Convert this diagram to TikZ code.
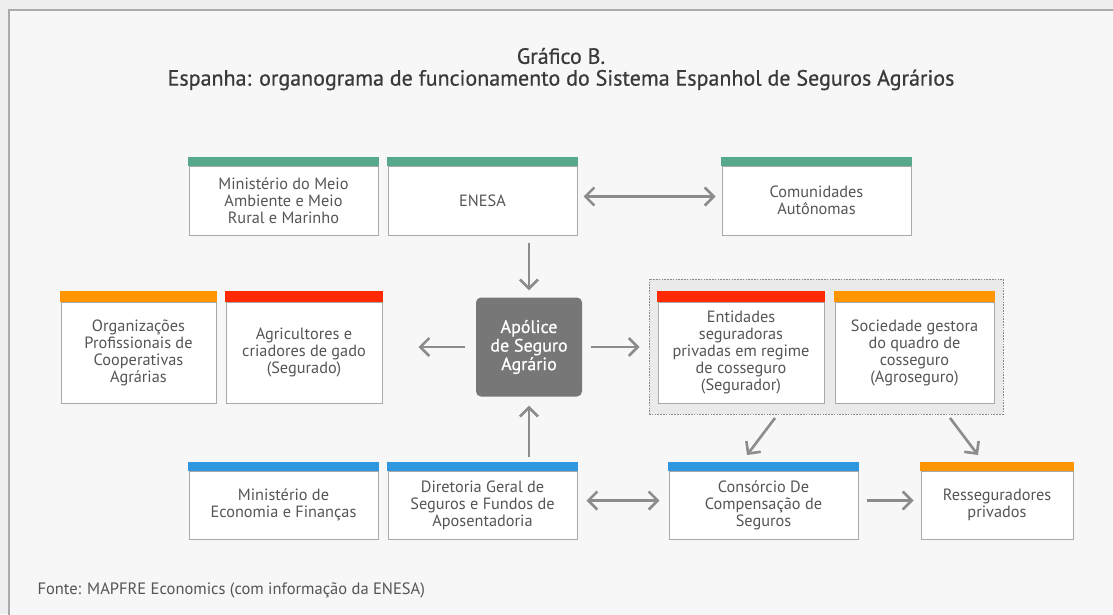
\documentclass[tikz,border=0pt]{standalone}
\usepackage{fontspec}
\setmainfont{PT Sans}
\newfontfamily\titlefont[FakeBold=0.7]{PT Sans}
\usetikzlibrary{arrows.meta}
\definecolor{bgout}{HTML}{EEEEEE}
\definecolor{bgin}{HTML}{F7F7F7}
\definecolor{frameC}{HTML}{AAAAAA}
\definecolor{boxline}{HTML}{A8A8A8}
\definecolor{txt}{HTML}{555555}
\definecolor{ttl}{HTML}{3A3A3A}
\definecolor{arr}{HTML}{8C8C8C}
\definecolor{cgreen}{HTML}{57A98B}
\definecolor{corange}{HTML}{FF9500}
\definecolor{cred}{HTML}{FF2A00}
\definecolor{cblue}{HTML}{2F96E0}
\definecolor{capol}{HTML}{777777}
\definecolor{grpfill}{HTML}{EAEAEA}
\definecolor{grpline}{HTML}{8A8A8A}
\tikzset{
  orgbox/.style={draw=boxline, line width=1pt, fill=white, inner sep=0pt,
    align=center, text=txt, font=\fontsize{16.3}{17}\selectfont},
  conn/.style={draw=arr, line width=2.6pt, -{Straight Barb[length=9pt, width=18pt, line width=2.6pt]}},
  connboth/.style={draw=arr, line width=2.6pt, {Straight Barb[length=9pt, width=18pt, line width=2.6pt]}-{Straight Barb[length=9pt, width=18pt, line width=2.6pt]}},
}
\begin{document}
\begin{tikzpicture}[x=1pt,y=-1pt]
\useasboundingbox (0,0) rectangle (1113,614);
\fill[bgout] (0,0) rectangle (1113,614);
\draw[fill=bgin, draw=frameC, line width=1.5pt] (9,10) rectangle (1125,630);

% title
\node[text=ttl, font=\titlefont\fontsize{22}{24}\selectfont] (t1) at (561,56) {Gráfico B.};
\node[text=ttl, font=\titlefont\fontsize{22}{24}\selectfont] (t2) at (561,80) {Espanha: organograma de funcionamento do Sistema Espanhol de Seguros Agrários};

% group box
\node[draw=grpline, fill=grpfill, line width=0.8pt, dash pattern=on 1.6pt off 1.2pt,
  minimum width=354pt, minimum height=135pt, inner sep=0pt] (grp) at (826,346.5) {};

% row 1
\node[orgbox, minimum width=189pt, minimum height=69pt] (min1) at (283.5,200.5) {Ministério do Meio\\Ambiente e Meio\\Rural e Marinho};
\node[orgbox, minimum width=189pt, minimum height=69pt] (enesa) at (482.5,200.5) {ENESA};
\node[orgbox, minimum width=189pt, minimum height=69pt] (comun) at (816.5,200.5) {Comunidades\\Autônomas};
% row 2
\node[orgbox, minimum width=155pt, minimum height=101pt] (org) at (138.5,352.5) {Organizações\\Profissionais de\\Cooperativas\\Agrárias};
\node[orgbox, minimum width=156pt, minimum height=101pt] (agri) at (304,352.5) {Agricultores e\\criadores de gado\\(Segurado)};
\node[orgbox, minimum width=166pt, minimum height=101pt] (ent) at (741,352.5) {Entidades\\seguradoras\\privadas em regime\\de cosseguro\\(Segurador)};
\node[orgbox, minimum width=159pt, minimum height=101pt] (soc) at (914.5,352.5) {Sociedade gestora\\do quadro de\\cosseguro\\(Agroseguro)};
\node[fill=capol, rounded corners=5pt, minimum width=106pt, minimum height=99pt, inner sep=0pt,
  align=center, text=white, font=\titlefont\fontsize{18}{18.6}\selectfont] (apol) at (529,347) {Apólice\\de Seguro\\Agrário};
% row 3
\node[orgbox, minimum width=189pt, minimum height=68pt] (eco) at (283.5,505) {Ministério de\\Economia e Finanças};
\node[orgbox, minimum width=189pt, minimum height=68pt] (dir) at (482.5,505) {Diretoria Geral de\\Seguros e Fundos de\\Aposentadoria};
\node[orgbox, minimum width=189pt, minimum height=68pt] (cons) at (763.5,505) {Consórcio De\\Compensação de\\Seguros};
\node[orgbox, minimum width=152pt, minimum height=68pt] (ress) at (997,505) {Resseguradores\\privados};

% colour bars
\foreach \n/\c/\h in {min1/cgreen/9, enesa/cgreen/9, comun/cgreen/9,
  org/corange/11, agri/cred/11, ent/cred/11, soc/corange/11,
  eco/cblue/9, dir/cblue/9, cons/cblue/9, ress/corange/9}{
  \fill[\c] ([xshift=-0.5pt]\n.north west) rectangle ([xshift=0.5pt,yshift=\h pt]\n.north east);
}

% connectors
\draw[connboth, shorten <=6pt, shorten >=6pt] ([yshift=4pt]enesa.east) -- ([yshift=4pt]comun.west);
\draw[conn, shorten <=7pt, shorten >=7pt] (enesa.south -| apol.north) -- (apol.north);
\draw[conn, shorten <=11pt, shorten >=36pt] (apol.west) -- (apol.west -| agri.east);
\draw[conn, shorten <=9pt, shorten >=9pt] (apol.east) -- (apol.east -| grp.west);
\draw[conn, shorten <=14pt, shorten >=9pt] (dir.north -| apol.south) -- (apol.south);
\draw[connboth, shorten <=9pt, shorten >=9pt] ([yshift=4.5pt]dir.east) -- ([yshift=4.5pt]cons.west);
\draw[conn, shorten <=8pt, shorten >=7pt] ([yshift=4.5pt]cons.east) -- ([yshift=4.5pt]ress.west);
\coordinate (d1s) at (775,418);
\coordinate (d1e) at (747,455);
\coordinate (d2s) at (950,418);
\coordinate (d2e) at (978,455);
\draw[conn] (d1s) -- (d1e);
\draw[conn] (d2s) -- (d2e);

% source
\node[anchor=west, text=txt, font=\fontsize{16.5}{18}\selectfont] (src) at (34,590) {Fonte: MAPFRE Economics (com informação da ENESA)};
\end{tikzpicture}
\end{document}
